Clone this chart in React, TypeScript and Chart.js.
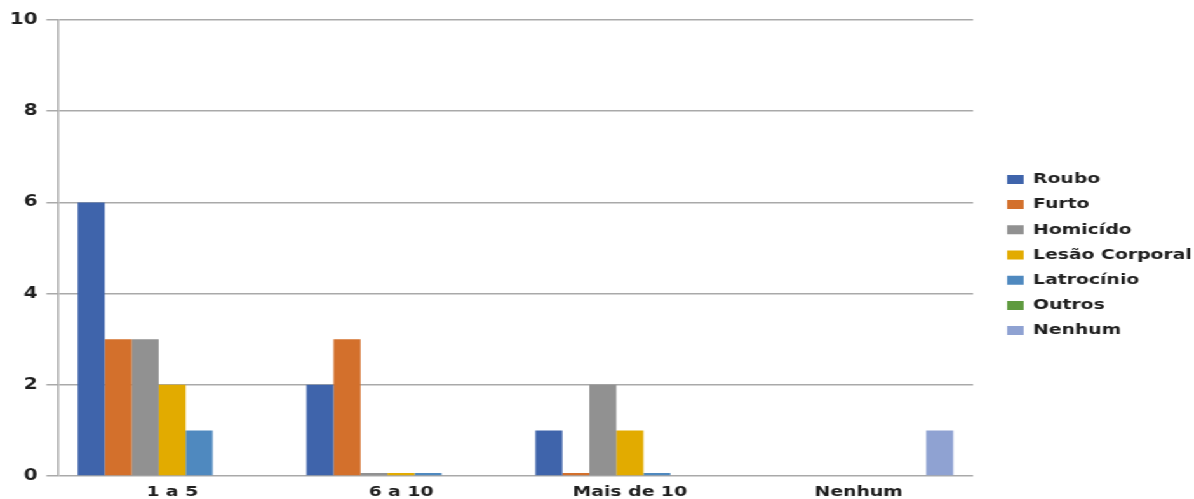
import { useEffect, useRef } from "react";
import { Chart, registerables } from "chart.js";

Chart.register(...registerables);

// Categories and series values (null = no bar drawn, 0 = thin baseline bar)
const categories = ["1 a 5", "6 a 10", "Mais de 10", "Nenhum"];
const seriesNames = ["Roubo", "Furto", "Homicído", "Lesão Corporal", "Latrocínio", "Outros", "Nenhum"];
const roubo = [6, 2, 1, null];
const furto = [3, 3, 0, null];
const homicidio = [3, 0, 2, null];
const lesaoCorporal = [2, 0, 1, null];
const latrocinio = [1, 0, 0, null];
const outros = [null, null, null, null];
const nenhum = [null, null, null, 1];
const seriesColors = ["#3f64ab", "#d3702c", "#919191", "#e2ab00", "#4f89bf", "#5f9a3f", "#8fa2d2"];
const yTickValues = [0, 2, 4, 6, 8, 10];

// The chart is drawn narrower and stretched horizontally to full width
const INNER_W = 940;
const INNER_H = 499;
const STRETCH = 1194 / INNER_W;

const FONT = "'DejaVu Sans', Verdana, sans-serif";
const FONT_SIZE = 14.8;
const TEXT_COLOR = "#1f1f1f";
const GRID_COLOR = "#a9a9a9";

export default function App() {
  const canvasRef = useRef<HTMLCanvasElement | null>(null);

  useEffect(() => {
    const canvas = canvasRef.current;
    if (!canvas) return;
    const values = [roubo, furto, homicidio, lesaoCorporal, latrocinio, outros, nenhum];
    const chart = new Chart(canvas, {
      type: "bar",
      data: {
        labels: categories,
        datasets: seriesNames.map((name, i) => ({
          label: name,
          data: values[i],
          backgroundColor: seriesColors[i],
          borderWidth: 0,
          minBarLength: 3,
          categoryPercentage: 0.826,
          barPercentage: 1.0,
        })),
      },
      options: {
        animation: false,
        responsive: false,
        devicePixelRatio: 1,
        layout: { padding: { left: 8, right: 2.6, top: 11, bottom: 0 } },
        plugins: {
          tooltip: { enabled: false },
          legend: {
            position: "right",
            align: "center",
            labels: {
              boxWidth: 13,
              boxHeight: 9,
              padding: 10.4,
              color: TEXT_COLOR,
              font: { family: FONT, size: FONT_SIZE, weight: "bold" },
            },
          },
        },
        scales: {
          x: {
            grid: { display: false, drawTicks: false, tickLength: 0 },
            border: { display: false },
            ticks: {
              color: TEXT_COLOR,
              padding: 7,
              font: { family: FONT, size: FONT_SIZE, weight: "bold" },
            },
            afterFit: (scale: any) => {
              scale.height = 23;
            },
          },
          y: {
            min: 0,
            max: 10,
            afterBuildTicks: (scale: any) => {
              scale.ticks = yTickValues.map((v) => ({ value: v }));
            },
            afterFit: (scale: any) => {
              scale.width = 37.5;
              scale.paddingTop = 20;
              scale.paddingBottom = 0;
            },
            grid: {
              color: GRID_COLOR,
              lineWidth: 1.5,
              drawTicks: true,
              tickLength: 9,
            },
            border: { display: true, color: GRID_COLOR, width: 1.5 },
            ticks: {
              color: TEXT_COLOR,
              padding: 7,
              font: { family: FONT, size: 15.6, weight: "bold" },
            },
          },
          gap: {
            type: "linear",
            position: "right",
            display: true,
            grid: { display: false, drawTicks: false },
            border: { display: false },
            ticks: { display: false },
            afterFit: (scale: any) => {
              scale.width = 16.4;
            },
          },
        },
      },
    } as any);
    return () => chart.destroy();
  }, []);

  return (
    <div
      style={{
        position: "absolute",
        left: 0,
        top: 0,
        width: INNER_W,
        height: INNER_H,
        transform: `scaleX(${STRETCH})`,
        transformOrigin: "0 0",
        background: "#ffffff",
      }}
    >
      <canvas
        ref={canvasRef}
        width={INNER_W}
        height={INNER_H}
        style={{ width: INNER_W, height: INNER_H, display: "block" }}
      />
    </div>
  );
}
